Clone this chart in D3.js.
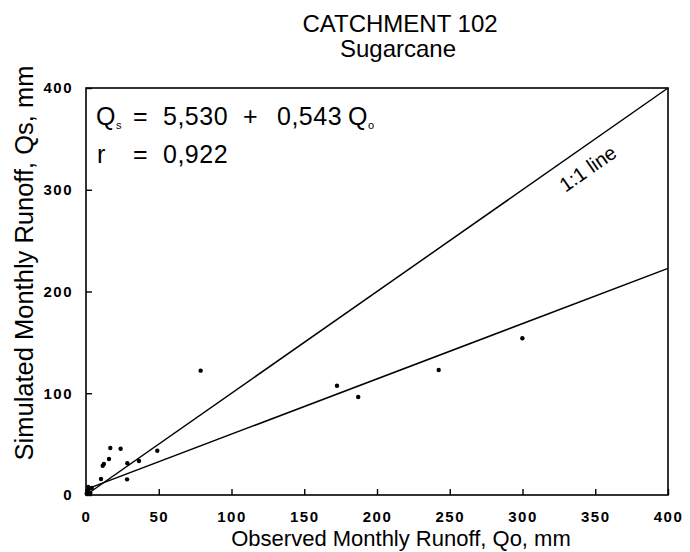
<!DOCTYPE html>
<html>
<head>
<meta charset="utf-8">
<script src="https://cdn.jsdelivr.net/npm/d3@7"></script>
<style>
  body { margin: 0; background: #fff; }
  svg { display: block; font-family: "Liberation Sans", Arial, sans-serif; }
  .tick-label { font-weight: bold; font-size: 15px; letter-spacing: 1.5px; }
</style>
</head>
<body>
<div id="chart"></div>
<script>
// observed (Qo) and simulated (Qs) monthly runoff, mm
const observed = [0.5, 1, 2, 3, 1.5, 4, 10.3, 11.5, 12.3, 15.8, 16.7, 23.8, 28.4, 28.2, 36.4, 49, 78.8, 172.5, 187.1, 242.4, 299.9];
const simulated = [1.5, 4, 6, 2, 8, 7, 15.7, 28.8, 30.5, 35.4, 46.2, 45.5, 31.2, 15.4, 33.4, 43.5, 122.2, 107.4, 96.3, 122.9, 154];
const xTicks = [0, 50, 100, 150, 200, 250, 300, 350, 400];
const yTicks = [0, 100, 200, 300, 400];
const intercept = 5.530;
const slope = 0.543;

const W = 690, H = 552;
const margin = { top: 88, right: 22, bottom: 57, left: 86 };
const width = W - margin.left - margin.right;
const height = H - margin.top - margin.bottom;

const x = d3.scaleLinear().domain([0, 400]).range([0, width]);
const y = d3.scaleLinear().domain([0, 400]).range([height, 0]);

const svg = d3.select('#chart').append('svg')
  .attr('width', W).attr('height', H);

const g = svg.append('g')
  .attr('transform', `translate(${margin.left},${margin.top})`);

// frame
g.append('rect')
  .attr('width', width).attr('height', height)
  .attr('fill', 'none').attr('stroke', '#000').attr('stroke-width', 1.6);

// x axis, ticks pointing inward
const xAxis = g.append('g')
  .attr('transform', `translate(0,${height})`)
  .call(d3.axisBottom(x).tickValues(xTicks).tickSize(-6).tickPadding(16).tickFormat(d3.format('d')));
xAxis.select('.domain').remove();
xAxis.selectAll('line').attr('stroke', '#000').attr('stroke-width', 1.4);
xAxis.selectAll('text').attr('class', 'tick-label').attr('fill', '#000').attr('font-family', null).attr('font-size', null);

// y axis
const yAxis = g.append('g')
  .call(d3.axisLeft(y).tickValues(yTicks).tickSize(-6).tickPadding(13).tickFormat(d3.format('d')));
yAxis.select('.domain').remove();
yAxis.selectAll('line').attr('stroke', '#000').attr('stroke-width', 1.4);
yAxis.selectAll('text').attr('class', 'tick-label').attr('fill', '#000').attr('font-family', null).attr('font-size', null);

// 1:1 line
g.append('line')
  .attr('x1', x(0)).attr('y1', y(0))
  .attr('x2', x(400)).attr('y2', y(400))
  .attr('stroke', '#000').attr('stroke-width', 1.5);

// regression line
g.append('line')
  .attr('x1', x(0)).attr('y1', y(intercept))
  .attr('x2', x(400)).attr('y2', y(intercept + slope * 400))
  .attr('stroke', '#000').attr('stroke-width', 1.5);

// points
g.selectAll('circle')
  .data(observed)
  .enter().append('circle')
  .attr('cx', (d) => x(d))
  .attr('cy', (d, i) => y(simulated[i]))
  .attr('r', 2.2)
  .attr('fill', '#000');

// 1:1 line label
const ang = Math.atan2(y(400) - y(0), x(400) - x(0)) * 180 / Math.PI;
g.append('text')
  .attr('transform', `translate(${x(337)},${y(337)}) rotate(${ang}) translate(0,27)`)
  .attr('text-anchor', 'middle')
  .attr('font-size', 20)
  .text('1:1 line');

// equation
const eq = g.append('g').attr('font-size', 25).attr('letter-spacing', 0.5);
eq.append('text').attr('x', 10).attr('y', 37).text('Q');
eq.append('text').attr('x', 30).attr('y', 41).attr('font-size', 11).attr('letter-spacing', 0).text('s');
eq.append('text').attr('x', 47).attr('y', 37).text('=');
eq.append('text').attr('x', 77).attr('y', 37).text('5,530');
eq.append('text').attr('x', 157).attr('y', 37).text('+');
eq.append('text').attr('x', 191).attr('y', 37).text('0,543');
eq.append('text').attr('x', 262).attr('y', 37).text('Q');
eq.append('text').attr('x', 282).attr('y', 41).attr('font-size', 11).attr('letter-spacing', 0).text('o');
eq.append('text').attr('x', 11).attr('y', 75).text('r');
eq.append('text').attr('x', 47).attr('y', 75).text('=');
eq.append('text').attr('x', 77).attr('y', 75).text('0,922');

// titles
svg.append('text')
  .attr('x', 400).attr('y', 32)
  .attr('text-anchor', 'middle')
  .attr('font-size', 24)
  .text('CATCHMENT 102');
svg.append('text')
  .attr('x', 398).attr('y', 57)
  .attr('text-anchor', 'middle')
  .attr('font-size', 24)
  .text('Sugarcane');

// axis labels
svg.append('text')
  .attr('x', 401).attr('y', 546)
  .attr('text-anchor', 'middle')
  .attr('font-size', 22)
  .text('Observed Monthly Runoff, Qo, mm');
svg.append('text')
  .attr('transform', 'translate(33,263) rotate(-90)')
  .attr('text-anchor', 'middle')
  .attr('font-size', 25.5)
  .text('Simulated Monthly Runoff, Qs, mm');
</script>
</body>
</html>
